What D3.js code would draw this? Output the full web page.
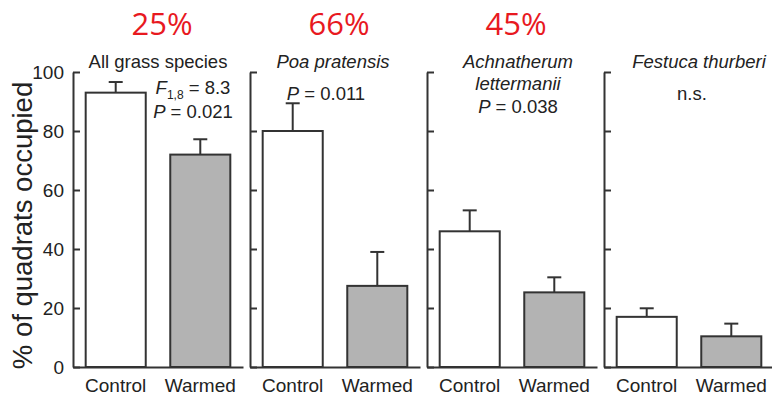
<!DOCTYPE html>
<html>
<head>
<meta charset="utf-8">
<script src="https://cdn.jsdelivr.net/npm/d3@7"></script>
<style>
body { margin: 0; background: #fff; }
svg text { font-family: "Liberation Sans", Arial, sans-serif; fill: #222; }
</style>
</head>
<body>
<svg id="chart"></svg>
<script>
// data
let panelTitles = [['All grass species'], ['Poa pratensis'], ['Achnatherum', 'lettermanii'], ['Festuca thurberi']]
let groups = ['Control', 'Warmed']
let declines = ['25%', '66%', '45%', '']
let controlMean = [93, 80, 46, 17]
let controlErr = [3.6, 9.4, 7.1, 2.9]
let warmedMean = [72, 27.5, 25.3, 10.4]
let warmedErr = [5.2, 11.5, 5.1, 4.3]
let pValues = ['0.021', '0.011', '0.038', 'n.s.']
let fValue = '8.3'
let yTicks = [0, 20, 40, 60, 80, 100]

let width = 772
let height = 398
let yTop = 72
let yBottom = 367
let ink = '#333'

let svg = d3.select('#chart').attr('width', width).attr('height', height)

let panelScale = d3.scaleBand()
    .domain(d3.range(panelTitles.length))
    .range([73, 73 + 177 * 4])

let xScale = d3.scaleBand()
    .domain(groups)
    .range([0, 170])
    .paddingInner(0.29)
    .paddingOuter(0.15)

let yScale = d3.scaleLinear()
    .domain([0, 100])
    .range([yBottom, yTop])

// small layout nudges so the text lines up like the original
let titleShift = [0, -2, 6, 10]
let statX = [120, 76, 91, 88]

// y axis title
svg.append('text')
    .attr('transform', 'translate(32,' + ((yTop + yBottom) / 2 + 6) + ') rotate(-90)')
    .attr('text-anchor', 'middle')
    .style('font-size', '27.5px')
    .text('% of quadrats occupied')

panelTitles.forEach((title, i) => {
    let g = svg.append('g').attr('transform', 'translate(' + panelScale(i) + ',0)')
    let cx = xScale.range()[1] / 2

    // bars
    let bars = groups.map((grp, j) => ({
        grp: grp,
        mean: j == 0 ? controlMean[i] : warmedMean[i],
        err: j == 0 ? controlErr[i] : warmedErr[i]
    }))

    g.selectAll('line.err')
        .data(bars)
        .enter()
        .append('line')
        .attr('class', 'err')
        .attr('x1', d => xScale(d.grp) + xScale.bandwidth() / 2)
        .attr('x2', d => xScale(d.grp) + xScale.bandwidth() / 2)
        .attr('y1', d => yScale(d.mean))
        .attr('y2', d => yScale(d.mean + d.err))
        .attr('stroke', ink)
        .attr('stroke-width', 2)

    g.selectAll('line.cap')
        .data(bars)
        .enter()
        .append('line')
        .attr('class', 'cap')
        .attr('x1', d => xScale(d.grp) + xScale.bandwidth() / 2 - 7)
        .attr('x2', d => xScale(d.grp) + xScale.bandwidth() / 2 + 7)
        .attr('y1', d => yScale(d.mean + d.err))
        .attr('y2', d => yScale(d.mean + d.err))
        .attr('stroke', ink)
        .attr('stroke-width', 2)

    g.selectAll('rect')
        .data(bars)
        .enter()
        .append('rect')
        .attr('x', d => xScale(d.grp))
        .attr('width', xScale.bandwidth())
        .attr('y', d => yScale(d.mean))
        .attr('height', d => yBottom - yScale(d.mean))
        .attr('fill', d => d.grp == 'Control' ? '#fff' : '#b3b3b3')
        .attr('stroke', ink)
        .attr('stroke-width', 2)

    // axes
    let yAxis = d3.axisLeft(yScale)
        .tickValues(yTicks)
        .tickSizeInner(-7)
        .tickSizeOuter(0)
        .tickPadding(9)
        .tickFormat(i == 0 ? d3.format('d') : '')

    let ya = g.append('g').call(yAxis)
    ya.selectAll('text').style('font-size', '19px').attr('fill', '#222')

    let xAxis = d3.axisBottom(xScale).tickSize(0).tickPadding(12)
    let xa = g.append('g')
        .attr('transform', 'translate(0,' + yBottom + ')')
        .call(xAxis)
    xa.selectAll('text').style('font-size', '19px').attr('fill', '#222')

    g.selectAll('.domain, .tick line').attr('stroke', ink).attr('stroke-width', 2)

    // red decline label
    if (declines[i]) {
        g.append('text')
            .attr('x', cx + 4)
            .attr('y', 35)
            .attr('text-anchor', 'middle')
            .style('font-family', '"Open Sans", sans-serif')
            .style('font-size', '31px')
            .style('fill', '#e8191f')
            .text(declines[i])
    }

    // species title
    title.forEach((line, k) => {
        g.append('text')
            .attr('x', cx + titleShift[i])
            .attr('y', 68 + k * 22)
            .attr('text-anchor', 'middle')
            .style('font-size', '18.5px')
            .style('font-style', i == 0 ? 'normal' : 'italic')
            .text(line)
    })

    // statistics
    let sy = i == 0 ? 118 : (title.length > 1 ? 113 : 100)
    if (i == 0) {
        let f = g.append('text')
            .attr('x', statX[i])
            .attr('y', 94)
            .attr('text-anchor', 'middle')
            .style('font-size', '18.5px')
        f.append('tspan').style('font-style', 'italic').text('F')
        f.append('tspan').attr('dy', 5).style('font-size', '12px').text('1,8')
        f.append('tspan').attr('dy', -5).text(' = ' + fValue)
    }
    let p = g.append('text')
        .attr('x', statX[i])
        .attr('y', sy)
        .attr('text-anchor', 'middle')
        .style('font-size', '18.5px')
    if (pValues[i] == 'n.s.') {
        p.text(pValues[i])
    } else {
        p.append('tspan').style('font-style', 'italic').text('P')
        p.append('tspan').text(' = ' + pValues[i])
    }
})
</script>
</body>
</html>
